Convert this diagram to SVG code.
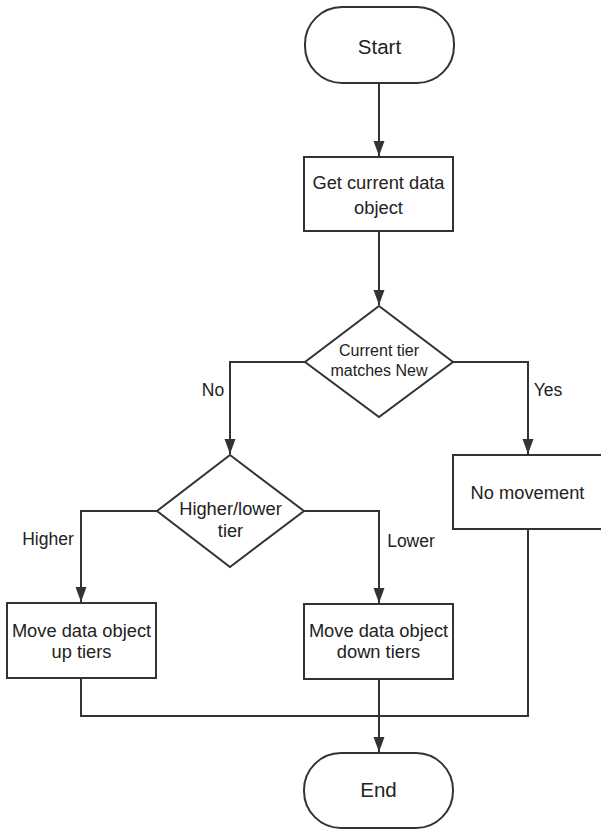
<svg xmlns="http://www.w3.org/2000/svg" width="601" height="830" viewBox="0 0 601 830">
  <style>
    .shape { fill: #ffffff; stroke: #333333; stroke-width: 2; }
    .edge { fill: none; stroke: #333333; stroke-width: 2; }
    text { font-family: "Liberation Sans", Arial, sans-serif; fill: #222222; text-anchor: middle; }
    .t18 { font-size: 18.3px; }
    .t20 { font-size: 20.5px; }
    .t16 { font-size: 16px; }
    .lbl { font-size: 17.5px; }
  </style>
  <defs>
    <marker id="arrow" viewBox="0 0 15 12" refX="15" refY="6" markerWidth="15" markerHeight="12" markerUnits="userSpaceOnUse" orient="auto">
      <path d="M0,0.5 L15,6 L0,11.5 Z" fill="#333333"/>
    </marker>
  </defs>

  <rect width="601" height="830" fill="#ffffff"/>

  <g id="connectors">
    <path class="edge" d="M379,83 L379,156" marker-end="url(#arrow)"/>
    <path class="edge" d="M379,231 L379,305" marker-end="url(#arrow)"/>
    <path class="edge" d="M305,362 L230,362 L230,454" marker-end="url(#arrow)"/>
    <path class="edge" d="M453,362 L528,362 L528,454" marker-end="url(#arrow)"/>
    <path class="edge" d="M157,511 L81,511 L81,602" marker-end="url(#arrow)"/>
    <path class="edge" d="M303,511 L379,511 L379,603" marker-end="url(#arrow)"/>
    <path class="edge" d="M81,678 L81,716 L528,716 L528,529"/>
    <path class="edge" d="M379,679 L379,752" marker-end="url(#arrow)"/>
    <text class="lbl" x="213" y="396">No</text>
    <text class="lbl" x="548" y="396">Yes</text>
    <text class="lbl" x="48" y="545">Higher</text>
    <text class="lbl" x="411" y="547">Lower</text>
  </g>

  <g id="start">
    <rect class="shape" x="305" y="7" width="149" height="76" rx="37" ry="37"/>
    <text class="t20" x="379.5" y="54">Start</text>
  </g>

  <g id="get-current">
    <rect class="shape" x="304" y="157" width="149" height="74"/>
    <text class="t18" x="378.5" y="189">Get current data</text>
    <text class="t18" x="378.5" y="214">object</text>
  </g>

  <g id="tier-match">
    <polygon class="shape" points="379,306 453,362 379,417 305,362"/>
    <text class="t16" x="379" y="356">Current tier</text>
    <text class="t16" x="379" y="376">matches New</text>
  </g>

  <g id="higher-lower">
    <polygon class="shape" points="230,455 304,511 230,567 157,511"/>
    <text class="t18" x="230.5" y="515">Higher/lower</text>
    <text class="t18" x="230.5" y="537">tier</text>
  </g>

  <g id="no-movement">
    <rect class="shape" x="453" y="455" width="149" height="74"/>
    <text class="t18" x="527.5" y="499">No movement</text>
  </g>

  <g id="move-up">
    <rect class="shape" x="7" y="603" width="149" height="75"/>
    <text class="t18" x="81.5" y="637">Move data object</text>
    <text class="t18" x="81.5" y="658">up tiers</text>
  </g>

  <g id="move-down">
    <rect class="shape" x="304" y="604" width="149" height="75"/>
    <text class="t18" x="378.5" y="637">Move data object</text>
    <text class="t18" x="378.5" y="658">down tiers</text>
  </g>

  <g id="end">
    <rect class="shape" x="304" y="753" width="149" height="75" rx="37" ry="37"/>
    <text class="t20" x="378.5" y="797">End</text>
  </g>
</svg>
